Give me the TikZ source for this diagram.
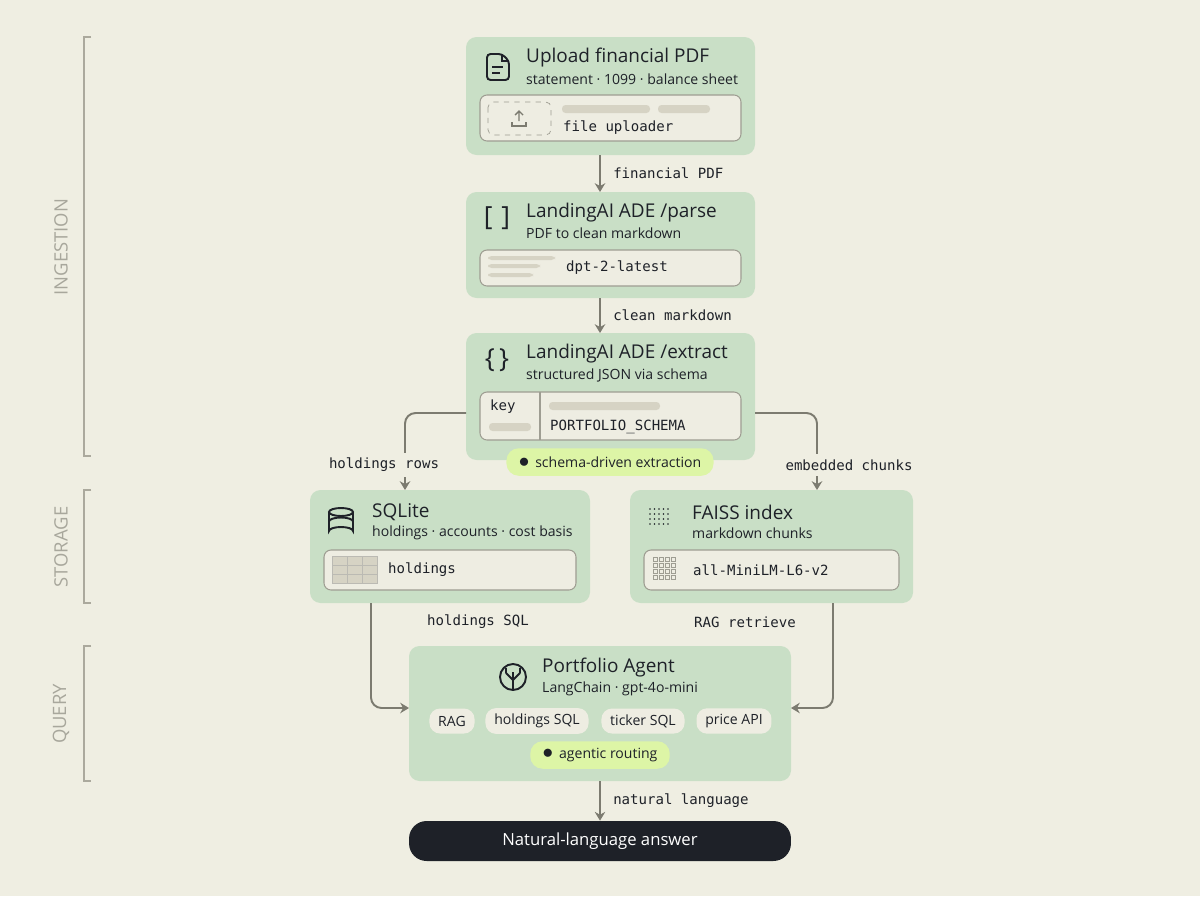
\documentclass[tikz,border=0pt]{standalone}
\usepackage{fontspec}
\setmainfont{Open Sans}
\setsansfont{Open Sans}
\setmonofont{DejaVu Sans Mono}
\usetikzlibrary{arrows.meta}

\definecolor{bg}{HTML}{EFEEE2}
\definecolor{card}{HTML}{C9DFC6}
\definecolor{inner}{HTML}{EEEDE2}
\definecolor{rim}{HTML}{9E9D92}
\definecolor{bar}{HTML}{D6D3C4}
\definecolor{wire}{HTML}{7C7B70}
\definecolor{lime}{HTML}{DDF5A6}
\definecolor{ink}{HTML}{1E2128}
\definecolor{side}{HTML}{A8A79C}

\begin{document}
\begin{tikzpicture}[x=0.02cm,y=-0.02cm,
  card/.style={fill=card,rounded corners=6,draw=none},
  panel/.style={fill=inner,draw=rim,line width=0.6pt,rounded corners=4},
  bar/.style={fill=bar,rounded corners=2,draw=none},
  title/.style={anchor=west,font=\fontsize{10.8}{12}\selectfont,text=ink},
  sub/.style={anchor=west,font=\fontsize{8}{9}\selectfont,text=ink},
  mono/.style={anchor=west,font=\ttfamily\fontsize{8}{9}\selectfont,text=ink},
  wlabel/.style={font=\ttfamily\fontsize{8}{9}\selectfont,text=ink,fill=bg,inner sep=3pt},
  chip/.style={fill=inner,rounded corners=6,minimum height=0.5cm,inner xsep=5pt,font=\fontsize{8}{9}\selectfont,text=ink},
  pill/.style={fill=lime,rounded corners=7,minimum height=0.55cm,inner xsep=7pt,font=\fontsize{8}{9}\selectfont,text=ink},
  flow/.style={draw=wire,line width=1.1pt,rounded corners=6,-{Stealth[length=5pt,width=6pt]}},
  icon/.style={draw=ink,line width=1.1pt},
  sidelabel/.style={rotate=90,font=\fontsize{10.5}{12}\selectfont,text=side},
  bracket/.style={draw=bar!80!black,line width=0.7pt}]

\fill[bg] (0,0) rectangle (1200,896);

% side labels
\draw[bracket] (91,37) -- (84,37) -- (84,456) -- (91,456);
\node[sidelabel] (ingestion) at (61,247) {INGESTION};
\draw[bracket] (91,490) -- (84,490) -- (84,603) -- (91,603);
\node[sidelabel] (storage) at (61,547) {STORAGE};
\draw[bracket] (91,646) -- (84,646) -- (84,781) -- (91,781);
\node[sidelabel] (query) at (61,714) {QUERY};

% cards
\path[card] (466,37) rectangle (755,155);
\coordinate (upload-s) at (600,155);
\path[card] (466,192) rectangle (755,298);
\coordinate (parse-n) at (600,192);
\coordinate (parse-s) at (600,298);
\path[card] (466,333) rectangle (755,460);
\coordinate (extract-n) at (600,333);
\coordinate (extract-w) at (466,413);
\coordinate (extract-e) at (755,413);
\path[card] (310,490) rectangle (590,603);
\coordinate (sqlite-n) at (405,490);
\coordinate (sqlite-s) at (371,603);
\path[card] (630,490) rectangle (913,603);
\coordinate (faiss-n) at (817,490);
\coordinate (faiss-s) at (833,603);
\path[card] (409,646) rectangle (791,781);
\coordinate (agent-w) at (409,708);
\coordinate (agent-e) at (791,708);
\coordinate (agent-s) at (600,781);
\node[fill=ink,rounded corners=10,minimum width=7.64cm,minimum height=0.8cm,text=white,font=\fontsize{9.5}{11}\selectfont] (answer) at (600,841) {Natural-language answer};

% upload card
\draw[icon,rounded corners=2] (487,54) -- (487,80) -- (509,80) -- (509,61) -- (502,54) -- cycle;
\draw[icon] (502,54) -- (502,61) -- (509,61);
\draw[icon] (492,67) -- (503,67) (492,73) -- (500,73);
\node[title] (upload) at (520,58) {Upload financial PDF};
\node[sub] (upload-sub) at (520,79) {statement · 1099 · balance sheet};
\path[panel] (480,95) rectangle (741,141);
\draw[rim,dashed,rounded corners=3] (488,102) rectangle (551,135);
\draw[wire,line width=0.8pt] (519,121) -- (519,111) (515,115) -- (519,111) -- (523,115);
\draw[wire,line width=0.8pt] (512,122) -- (512,126) -- (526,126) -- (526,122);
\path[bar] (562,105) rectangle (650,113);
\path[bar] (658,105) rectangle (710,113);
\node[mono] (uploader) at (557,128) {file uploader};

% parse card
\node[anchor=center,font=\fontsize{15}{16}\selectfont,text=ink] (brackets) at (497,218) {[\,\,]};
\node[title] (parse) at (520,213) {LandingAI ADE /parse};
\node[sub] (parse-sub) at (520,233) {PDF to clean markdown};
\path[panel] (480,250) rectangle (741,286);
\path[bar] (488,256) rectangle (555,260);
\path[bar] (488,264) rectangle (540,268);
\path[bar] (488,273) rectangle (533,277);
\node[mono] (dpt) at (560,268) {dpt-2-latest};

% extract card
\node[anchor=center,font=\fontsize{15}{16}\selectfont,text=ink] (braces) at (497,360) {\{\,\}};
\node[title] (extract) at (520,354) {LandingAI ADE /extract};
\node[sub] (extract-sub) at (520,375) {structured JSON via schema};
\path[panel] (480,392) rectangle (741,440);
\draw[rim,line width=0.6pt] (540,392) -- (540,440);
\node[mono] (key) at (484,407) {key};
\path[bar] (489,423) rectangle (531,431);
\path[bar] (549,402) rectangle (660,410);
\node[mono] (schema) at (544,427) {PORTFOLIO\_SCHEMA};
\node[pill] (schemapill) at (610,462) {\textcolor{ink}{\large$\bullet$}\, schema-driven extraction};

% sqlite card
\draw[icon] (341,512) ellipse (12 and 4);
\draw[icon] (329,512) -- (329,531) arc[start angle=180,end angle=360,x radius=12,y radius=4] -- (353,512);
\draw[icon] (329,521.5) arc[start angle=180,end angle=360,x radius=12,y radius=4];
\node[title] (sqlite) at (366,512) {SQLite};
\node[sub] (sqlite-sub) at (366,533) {holdings · accounts · cost basis};
\path[panel] (324,550) rectangle (576,590);
\draw[fill=bar,draw=rim!70,line width=0.5pt] (332,556) rectangle (377,583);
\draw[rim!70,line width=0.5pt] (332,565) -- (377,565) (332,574) -- (377,574) (347,556) -- (347,583) (362,556) -- (362,583);
\node[mono] (holdings) at (382,570) {holdings};

% faiss card
\foreach \i in {0,...,4} \foreach \j in {0,...,3}
  \fill[ink] (650+\i*4.5,509+\j*5) circle (0.8);
\node[title] (faiss) at (686,512) {FAISS index};
\node[sub] (faiss-sub) at (686,533) {markdown chunks};
\path[panel] (644,550) rectangle (899,590);
\foreach \i in {0,...,3} \foreach \j in {0,...,3}
  \draw[rim,line width=0.4pt] (653+\i*6,557+\j*6) rectangle ++(4,4);
\node[mono] (minilm) at (687,570) {all-MiniLM-L6-v2};

% agent card
\draw[icon] (513,677) circle (13);
\draw[icon] (513,690) -- (513,672) (513,680) -- (506,673) (513,680) -- (520,673) (506,673) -- (506,668) (520,673) -- (520,668);
\node[title] (agent) at (536,668) {Portfolio Agent};
\node[sub] (agent-sub) at (536,689) {LangChain · gpt-4o-mini};
\node[chip] (rag) at (452,721) {RAG};
\node[chip] (hsql) at (537,721) {holdings SQL};
\node[chip] (tsql) at (643,721) {ticker SQL};
\node[chip] (price) at (734,721) {price API};
\node[pill] (routing) at (600,755) {\textcolor{ink}{\large$\bullet$}\, agentic routing};

% connectors
\draw[flow] (upload-s) -- (parse-n) node[wlabel,midway,anchor=west,xshift=4pt,fill=none] {financial PDF};
\draw[flow] (parse-s) -- (extract-n) node[wlabel,midway,anchor=west,xshift=4pt,fill=none] {clean markdown};
\draw[flow] (extract-w) -| (sqlite-n);
\node[wlabel] (rows) at (384,465) {holdings rows};
\draw[flow] (extract-e) -| (faiss-n);
\node[wlabel] (chunks) at (849,465) {embedded chunks};
\draw[flow] (sqlite-s) |- (agent-w);
\node[wlabel] (hsqllabel) at (478,622) {holdings SQL};
\draw[flow] (faiss-s) |- (agent-e);
\node[wlabel] (raglabel) at (745,622) {RAG retrieve};
\draw[flow] (agent-s) -- (answer.north) node[wlabel,midway,anchor=west,xshift=4pt,fill=none] {natural language};

\end{tikzpicture}
\end{document}
